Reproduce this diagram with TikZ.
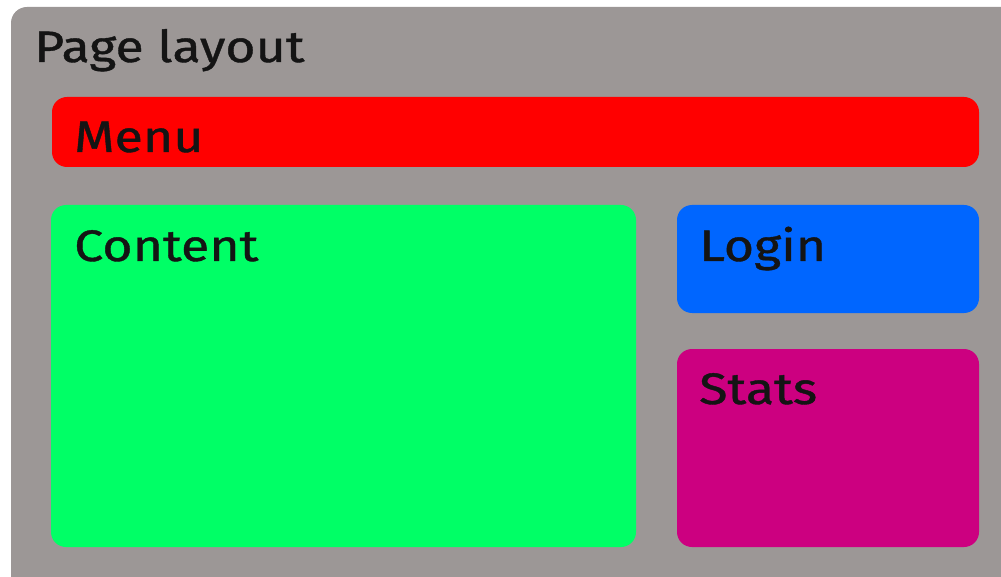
\documentclass[tikz,border=0pt]{standalone}
\usepackage{fontspec}
\setmainfont{Fira Sans}[FakeStretch=1.18,FakeBold=0.9]
\definecolor{pagegray}{RGB}{156,151,150}
\definecolor{menured}{RGB}{255,0,0}
\definecolor{contentgreen}{RGB}{0,255,102}
\definecolor{loginblue}{RGB}{0,102,255}
\definecolor{statsmagenta}{RGB}{204,0,128}
\begin{document}
\begin{tikzpicture}[x=1pt,y=-1pt,
  panel/.style={rounded corners=15pt},
  lbl/.style={anchor=base west,inner sep=0pt,font=\fontsize{44}{48}\selectfont,text=black!92}]
\useasboundingbox (0,0) rectangle (1001,577);
\fill[pagegray,rounded corners=16pt] (11,7) rectangle (1040,620);
\fill[menured,panel] (52,97) rectangle (979,167);
\fill[contentgreen,panel] (51,205) rectangle (636,547);
\fill[loginblue,panel] (677,205) rectangle (979,313);
\fill[statsmagenta,panel] (677,349) rectangle (979,547);
\node[lbl] (title) at (34,62) {Page layout};
\node[lbl] (menu) at (74,152) {Menu};
\node[lbl] (content) at (74,261) {Content};
\node[lbl] (login) at (699,261) {Login};
\node[lbl] (stats) at (699,404) {Stats};
\end{tikzpicture}
\end{document}
